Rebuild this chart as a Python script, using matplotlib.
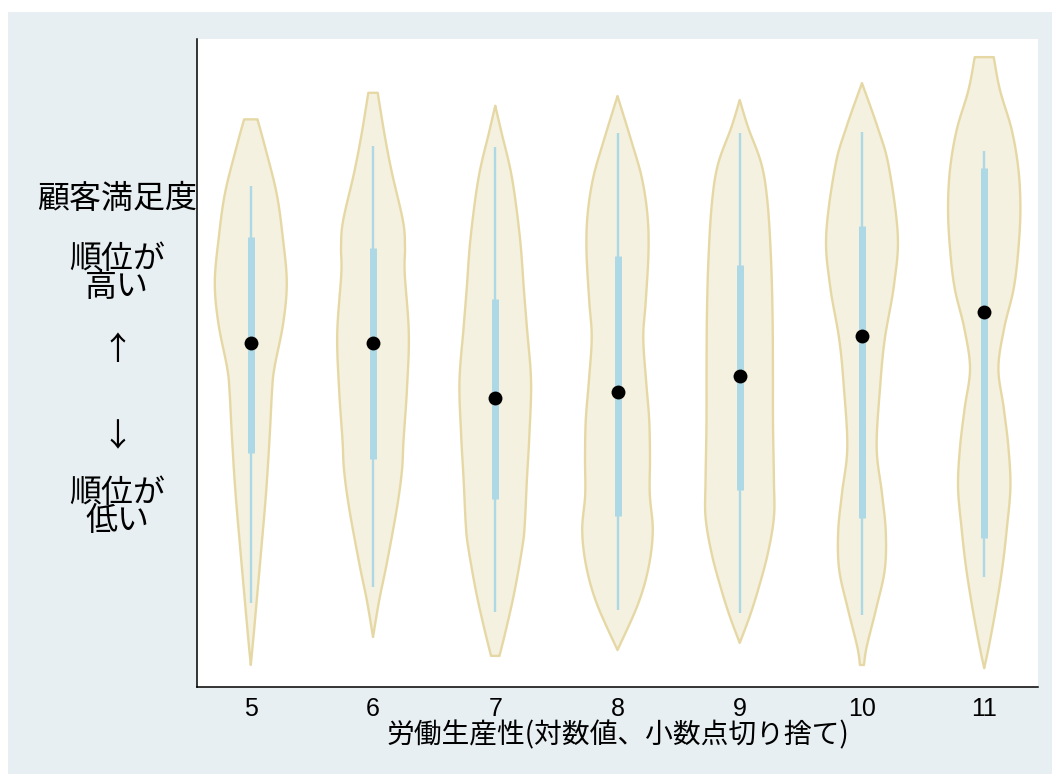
import numpy as np
import matplotlib
matplotlib.use("Agg")
import matplotlib.pyplot as plt
from matplotlib.patches import Rectangle

# ---- data -------------------------------------------------------------
categories = ["5", "6", "7", "8", "9", "10", "11"]

# Violin outlines: satisfaction level (0 = lowest rank, 100 = highest rank)
# and the kernel density (relative half-width) at that level, top to bottom.
lv5 = [87.6, 83.2, 76.2, 69.4, 62.5, 56.2, 49.3, 45.8, 39.0, 30.4, 21.8, 13.1, 7.4, 3.4]
dn5 = [6.7, 14.5, 25.8, 32.0, 36.0, 32.5, 23.7, 21.3, 19.0, 15.5, 10.8, 5.8, 2.5, 0.0]

lv6 = [91.7, 85.1, 79.3, 71.9, 67.9, 63.9, 54.6, 46.1, 38.0, 33.5, 27.7, 19.1, 13.4, 7.7]
dn6 = [4.7, 11.7, 19.0, 30.0, 32.0, 31.7, 35.8, 34.0, 30.5, 29.0, 24.0, 13.8, 6.2, 0.0]

lv7 = [89.7, 85.6, 78.6, 69.3, 61.2, 55.4, 47.2, 39.1, 32.1, 25.1, 21.7, 14.7, 8.9, 4.8]
dn7 = [0.0, 6.2, 16.7, 24.7, 28.7, 31.7, 35.8, 34.2, 31.7, 29.5, 27.2, 19.2, 10.8, 4.2]

lv8 = [91.2, 84.3, 78.6, 72.8, 67.1, 59.6, 53.9, 47.1, 41.3, 35.5, 29.8, 24.1, 18.4, 12.7, 5.7]
dn8 = [0.0, 13.8, 24.3, 30.0, 31.0, 28.3, 25.8, 28.7, 31.7, 32.5, 32.3, 35.3, 31.0, 20.3, 0.0]

lv9 = [90.6, 86.4, 80.7, 74.9, 66.4, 57.7, 49.1, 40.5, 31.9, 26.2, 20.4, 14.7, 10.7, 6.8]
dn9 = [0.0, 8.3, 21.7, 27.7, 31.2, 32.8, 33.2, 33.3, 34.2, 34.2, 27.8, 17.8, 9.5, 0.0]

lv10 = [93.2, 86.3, 80.4, 69.8, 62.0, 53.7, 46.6, 37.0, 29.9, 24.0, 18.1, 12.1, 6.2, 3.4]
dn10 = [0.0, 15.8, 26.7, 35.8, 32.0, 22.8, 18.3, 14.7, 20.0, 23.8, 22.8, 14.2, 4.7, 2.0]

lv11 = [97.2, 92.1, 86.0, 79.9, 73.8, 67.6, 61.5, 55.4, 49.2, 43.1, 37.0, 30.9, 24.7, 18.6, 12.4, 6.3, 2.9]
dn11 = [9.5, 15.8, 27.5, 34.2, 36.2, 34.2, 29.5, 20.0, 14.2, 19.5, 24.2, 26.2, 22.8, 18.3, 12.0, 4.7, 0.0]

levels = [lv5, lv6, lv7, lv8, lv9, lv10, lv11]
densities = [dn5, dn6, dn7, dn8, dn9, dn10, dn11]

# Box statistics per category
whisker_high = [77.3, 83.5, 83.3, 85.5, 85.5, 85.7, 82.7]
q3 = [69.4, 67.7, 59.9, 66.5, 65.2, 71.1, 80.1]
median = [53.1, 53.1, 44.6, 45.5, 48.0, 54.2, 57.9]
q1 = [36.1, 35.2, 29.0, 26.4, 30.4, 26.1, 23.0]
whisker_low = [13.0, 15.4, 11.6, 11.9, 11.4, 11.1, 17.0]

# ---- styling ----------------------------------------------------------
FIG_BG = "#e8eff2"
VIOLIN_FACE = "#f4f1e0"
VIOLIN_EDGE = "#e6d8a5"
BOX_COLOR = "#add8e6"
MAX_HALF_WIDTH = 0.296  # in category units

plt.rcParams["font.family"] = ["Noto Sans CJK JP", "DejaVu Sans"]

W, H = 1052, 774
fig = plt.figure(figsize=(W / 100, H / 100), dpi=100, facecolor="white")
fig.patches.append(Rectangle((8 / W, 0), 1 - 8 / W, (H - 12) / H,
                             transform=fig.transFigure, facecolor=FIG_BG,
                             edgecolor="none", zorder=-10))

ax = fig.add_axes([197 / W, (H - 687) / H, (1038 - 197) / W, (687 - 39) / H])
ax.set_facecolor("white")


def catmull_rom(y, w, n=14):
    pts = np.column_stack([y, w]).astype(float)
    P = np.vstack([pts[0], pts, pts[-1]])
    t = np.linspace(0, 1, n, endpoint=False)[:, None]
    segs = []
    for i in range(1, len(P) - 2):
        p0, p1, p2, p3 = P[i - 1], P[i], P[i + 1], P[i + 2]
        seg = 0.5 * (2 * p1 + (-p0 + p2) * t
                     + (2 * p0 - 5 * p1 + 4 * p2 - p3) * t ** 2
                     + (-p0 + 3 * p1 - 3 * p2 + p3) * t ** 3)
        segs.append(seg)
    segs.append(pts[-1:])
    out = np.vstack(segs)
    out[:, 1] = np.clip(out[:, 1], 0, None)
    return out[:, 0], out[:, 1]


max_density = max(max(d) for d in densities)
positions = np.arange(len(categories))

for pos, lv, dn in zip(positions, levels, densities):
    ys, ws = catmull_rom(lv, dn)
    half = np.asarray(ws) / max_density * MAX_HALF_WIDTH
    xs = np.concatenate([pos + half, (pos - half)[::-1]])
    yy = np.concatenate([ys, ys[::-1]])
    ax.fill(xs, yy, facecolor=VIOLIN_FACE, edgecolor=VIOLIN_EDGE,
            linewidth=1.7, joinstyle="round", zorder=2)

# inner box: whisker line, thick interquartile bar, median dot
ax.vlines(positions, whisker_low, whisker_high, color=BOX_COLOR,
          linewidth=1.7, zorder=3)
ax.vlines(positions, q1, q3, color=BOX_COLOR, linewidth=5.0, zorder=4)
ax.scatter(positions, median, s=100, color="black", zorder=5, linewidths=0)

ax.set_xlim(-0.44, 6.44)
ax.set_ylim(0, 100)
ax.set_xticks(positions)
ax.set_xticklabels(categories, fontsize=18, family=["Liberation Sans", "DejaVu Sans"])
ax.tick_params(axis="x", length=0, pad=7)
ax.set_yticks([])
for side in ("top", "right"):
    ax.spines[side].set_visible(False)
for side in ("left", "bottom"):
    ax.spines[side].set_linewidth(1.1)
    ax.spines[side].set_color("black")

ax.set_xlabel("労働生産性(対数値、小数点切り捨て)", fontsize=20, labelpad=0)

# y-axis description
ylab = [("顧客満足度", 199), ("順位が\n高い", 273), ("↑", 350),
        ("↓", 437), ("順位が\n低い", 507)]
for txt, py in ylab:
    fig.text(117 / W, 1 - py / H, txt, fontsize=23, ha="center", va="center",
             multialignment="center", linespacing=0.85)

fig.savefig("out.png", dpi=100, facecolor=fig.get_facecolor())
